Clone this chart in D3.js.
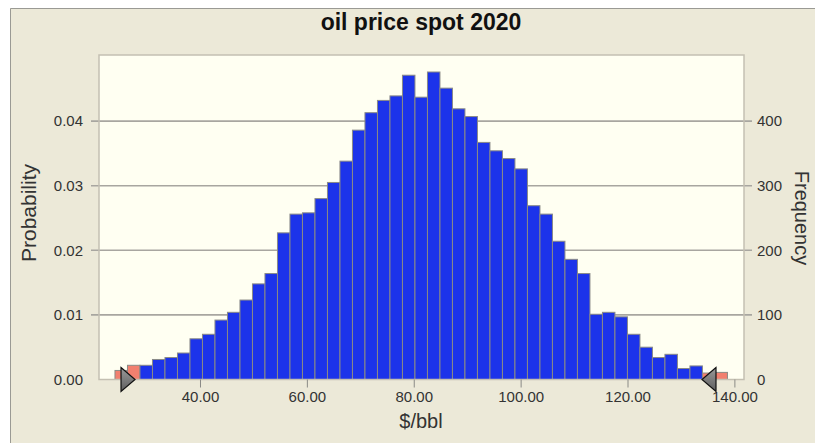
<!DOCTYPE html>
<html><head><meta charset="utf-8">
<script src="https://cdn.jsdelivr.net/npm/d3@7"></script>
<style>body{margin:0;background:#fff}svg{display:block}</style>
</head><body><svg id="c" width="815" height="443"></svg>
<script>
// ---- data ----
const title = "oil price spot 2020";
const xLabel = "$/bbl";
const yLeftLabel = "Probability";
const yRightLabel = "Frequency";
const trials = 10000;
const binStart = 24.09;
const binWidth = 2.339;
const frequencies = [14,22,22,31,34,41,63,70,92,104,123,148,164,227,256,258,280,305,338,386,413,432,439,471,437,476,451,419,407,367,354,342,326,269,256,214,186,164,101,104,97,70,50,34,39,17,21,10,11];
const certaintyRange = [27.84, 133.94];
const xTicks = [40, 60, 80, 100, 120, 140];
const probTicks = [0, 0.01, 0.02, 0.03, 0.04];
const freqTicks = [0, 100, 200, 300, 400];
const xDomain = [21.1, 141.8];
const probMax = 0.05023;

const svg = d3.select("#c");
const W = 815, H = 443;
const m = {left: 99, right: 744, top: 55, bottom: 379.5};
const font = "'Liberation Sans', Arial, sans-serif";

svg.append("rect").attr("x", 10).attr("y", 8).attr("width", W - 10).attr("height", H - 8).attr("fill", "#ECE9D8");
svg.append("path").attr("d", `M10.5,${H} V8.5 H${W}`).attr("fill", "none").attr("stroke", "#9a9a94").attr("stroke-width", 1);

const x = d3.scaleLinear().domain(xDomain).range([m.left, m.right]);
const yP = d3.scaleLinear().domain([0, probMax]).range([m.bottom, m.top]);
const yF = d3.scaleLinear().domain([0, probMax * trials]).range([m.bottom, m.top]);

// plot background
svg.append("rect").attr("x", m.left).attr("y", m.top).attr("width", m.right - m.left).attr("height", m.bottom - m.top)
  .attr("fill", "#FFFFF2");

// gridlines (extend as tick marks on both sides)
svg.append("g").selectAll("line").data(probTicks.filter(d => d > 0)).join("line")
  .attr("x1", m.left - 8).attr("x2", m.right + 8)
  .attr("y1", d => yP(d)).attr("y2", d => yP(d))
  .attr("stroke", "#a8a6a0").attr("stroke-width", 1.6);

// bars
const bins = frequencies.map((f, i) => {
  const x0 = binStart + i * binWidth, x1 = x0 + binWidth;
  const mid = (x0 + x1) / 2;
  return {x0, x1, f, out: mid < certaintyRange[0] || mid > certaintyRange[1]};
});
svg.append("g").selectAll("rect").data(bins).join("rect")
  .attr("x", d => x(d.x0)).attr("width", d => x(d.x1) - x(d.x0))
  .attr("y", d => yF(d.f)).attr("height", d => yF(0) - yF(d.f))
  .attr("fill", d => d.out ? "#F2806F" : "#1C33EA")
  .attr("stroke", "#8a8a86").attr("stroke-width", 1);

// plot border
svg.append("rect").attr("x", m.left).attr("y", m.top).attr("width", m.right - m.left).attr("height", m.bottom - m.top)
  .attr("fill", "none").attr("stroke", "#c4c0b2").attr("stroke-width", 1.5);

// left axis
const gL = svg.append("g").attr("transform", `translate(${m.left},0)`)
  .call(d3.axisLeft(yP).tickValues(probTicks).tickFormat(d3.format(".2f")).tickSize(0).tickPadding(16));
// right axis
const gR = svg.append("g").attr("transform", `translate(${m.right},0)`)
  .call(d3.axisRight(yF).tickValues(freqTicks).tickFormat(d3.format("d")).tickSize(0).tickPadding(13));
// bottom axis
const gB = svg.append("g").attr("transform", `translate(0,${m.bottom})`)
  .call(d3.axisBottom(x).tickValues(xTicks).tickFormat(d3.format(".2f")).tickSize(8).tickPadding(4));
[gL, gR, gB].forEach(g => {
  g.select(".domain").remove();
  g.selectAll("text").attr("font-family", font).attr("font-size", 15).attr("fill", "#333");
  g.selectAll("line").attr("stroke", "#8a8a86");
});

// certainty grabbers
const grad = svg.append("defs").append("linearGradient").attr("id", "gg").attr("x1", 0).attr("y1", 0).attr("x2", 0).attr("y2", 1);
grad.append("stop").attr("offset", 0).attr("stop-color", "#9a9a9a");
grad.append("stop").attr("offset", 1).attr("stop-color", "#5e5e5e");
const gy = m.bottom, gh = 12, gw = 14;
svg.append("path")
  .attr("d", `M${x(certaintyRange[0]) - gw},${gy - gh} L${x(certaintyRange[0])},${gy} L${x(certaintyRange[0]) - gw},${gy + gh} Z`)
  .attr("fill", "url(#gg)").attr("stroke", "#111").attr("stroke-width", 1.2);
svg.append("path")
  .attr("d", `M${x(certaintyRange[1]) + gw},${gy - gh} L${x(certaintyRange[1])},${gy} L${x(certaintyRange[1]) + gw},${gy + gh} Z`)
  .attr("fill", "url(#gg)").attr("stroke", "#111").attr("stroke-width", 1.2);

// title and labels
svg.append("text").attr("x", 421).attr("y", 30).attr("text-anchor", "middle")
  .attr("font-family", font).attr("font-weight", "bold").attr("font-size", 23).attr("fill", "#111").text(title);
svg.append("text").attr("x", 421).attr("y", 428).attr("text-anchor", "middle")
  .attr("font-family", font).attr("font-size", 20).attr("fill", "#333").text(xLabel);
svg.append("text").attr("transform", "translate(36,213) rotate(-90)").attr("text-anchor", "middle")
  .attr("font-family", font).attr("font-size", 21).attr("fill", "#333").text(yLeftLabel);
svg.append("text").attr("transform", "translate(795,218) rotate(90)").attr("text-anchor", "middle")
  .attr("font-family", font).attr("font-size", 20).attr("fill", "#333").text(yRightLabel);
</script></body></html>
